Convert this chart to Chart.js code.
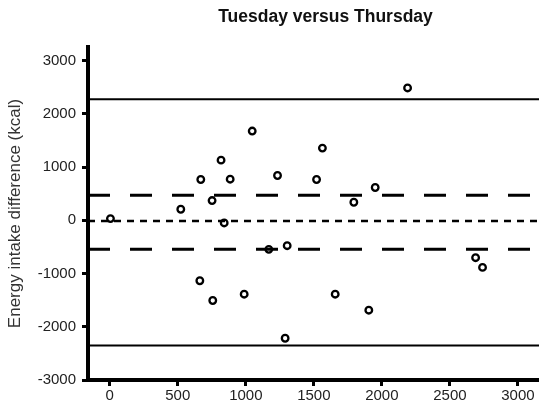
<!DOCTYPE html>
<html>
<head>
<meta charset="utf-8">
<script src="https://cdn.jsdelivr.net/npm/chart.js@4"></script>
<style>
  body { margin: 0; background: #fff; }
  #wrap { width: 539px; height: 413px; }
</style>
</head>
<body>
<div id="wrap"><canvas id="baChart"></canvas></div>
<script>
// mean of the two days (kcal) and Tuesday - Thursday difference (kcal)
const meanIntake = [5, 522, 669, 752, 818, 885, 841, 1047, 1233, 1520, 1563, 1794, 1951, 2189,
                    1169, 1304, 662, 757, 988, 1289, 1657, 1904, 2689, 2740]
const intakeDiff = [32, 207, 766, 371, 1130, 772, -50, 1676, 841, 766, 1356, 339, 616, 2486,
                    -546, -477, -1136, -1507, -1388, -2216, -1388, -1689, -703, -885]

// bias and limits
const meanDiff = -15
const ciUpper = 471
const ciLower = -546
const loaUpper = 2273
const loaLower = -2354

const xTicks = [0, 500, 1000, 1500, 2000, 2500, 3000]
const yTicks = [-3000, -2000, -1000, 0, 1000, 2000, 3000]
const xMin = -160, xMax = 3155
const yMin = -3000, yMax = 3255

const chartTitle = 'Tuesday versus Thursday'
const yTitle = 'Energy intake difference (kcal)'

const fontFamily = '"Liberation Sans", Arial, sans-serif'

function hLine(v, width, dash) {
    return {
        type: 'line',
        data: [{x: xMin, y: v}, {x: xMax, y: v}],
        borderColor: '#000',
        borderWidth: width,
        borderDash: dash,
        pointRadius: 0,
        order: 2
    }
}

const titlePlugin = {
    id: 'topTitle',
    afterDraw(chart) {
        const ctx = chart.ctx
        const a = chart.chartArea
        ctx.save()
        ctx.font = 'bold 17.5px ' + fontFamily
        ctx.fillStyle = '#111'
        ctx.textAlign = 'center'
        ctx.textBaseline = 'middle'
        ctx.fillText(chartTitle, (a.left + a.right) / 2 + 12, 17)
        ctx.restore()
    }
}

const ctx = document.getElementById('baChart').getContext('2d')
new Chart(ctx, {
    type: 'scatter',
    data: {
        datasets: [
            {
                data: meanIntake.map((x, i) => ({x: x, y: intakeDiff[i]})),
                pointStyle: 'circle',
                pointRadius: 3.3,
                pointBorderWidth: 2.3,
                pointBorderColor: '#000',
                pointBackgroundColor: 'rgba(0,0,0,0)',
                order: 1
            },
            hLine(loaUpper, 2, []),
            hLine(loaLower, 2, []),
            hLine(ciUpper, 3, [22, 20]),
            hLine(ciLower, 3, [22, 20]),
            hLine(meanDiff, 2.5, [7, 6])
        ]
    },
    options: {
        responsive: true,
        maintainAspectRatio: false,
        animation: false,
        layout: { autoPadding: false, padding: { top: 47, right: 0, left: 0, bottom: 0 } },
        plugins: {
            legend: { display: false },
            tooltip: { enabled: false }
        },
        scales: {
            x: {
                type: 'linear',
                min: xMin,
                max: xMax,
                afterBuildTicks: s => { s.ticks = xTicks.map(v => ({value: v})) },
                afterFit: s => {
                    s.height = 33
                    s.paddingLeft = 0
                    s.paddingRight = 0
                },
                border: { display: true, color: '#000', width: 4 },
                grid: { drawOnChartArea: false, drawTicks: true, tickLength: 6, tickWidth: 3, tickColor: '#000' },
                ticks: {
                    padding: 1,
                    color: '#222',
                    font: { family: fontFamily, size: 15 },
                    maxRotation: 0,
                    callback: v => String(v)
                }
            },
            y: {
                type: 'linear',
                min: yMin,
                max: yMax,
                afterBuildTicks: s => { s.ticks = yTicks.map(v => ({value: v})) },
                afterFit: s => {
                    s.width = 88
                    s.paddingTop = 0
                    s.paddingBottom = 0
                },
                border: { display: true, color: '#000', width: 4 },
                grid: { drawOnChartArea: false, drawTicks: true, tickLength: 6, tickWidth: 3, tickColor: '#000' },
                ticks: {
                    padding: 6,
                    color: '#222',
                    font: { family: fontFamily, size: 15 },
                    callback: v => String(v)
                },
                title: {
                    display: true,
                    text: yTitle,
                    color: '#333',
                    padding: { top: 5, bottom: 0 },
                    font: { family: fontFamily, size: 17 }
                }
            }
        }
    },
    plugins: [titlePlugin]
})
</script>
</body>
</html>
